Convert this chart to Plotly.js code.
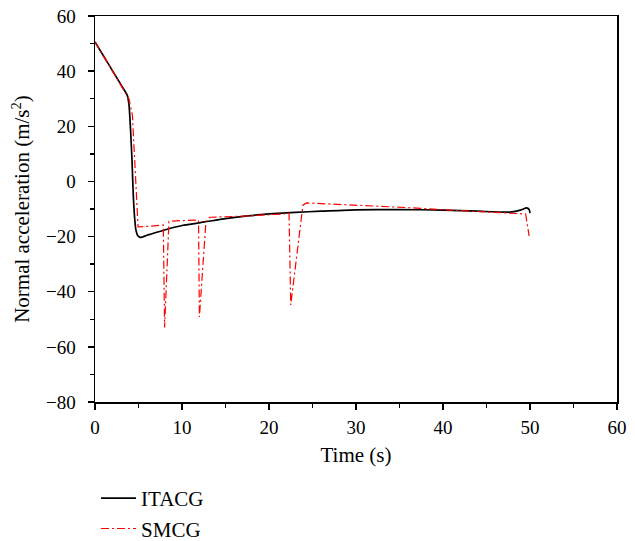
<!DOCTYPE html>
<html>
<head>
<meta charset="utf-8">
<script src="https://cdn.plot.ly/plotly-3.0.1.min.js"></script>
<style>html,body{margin:0;padding:0;background:#fff;}#chart{width:635px;height:541px;}</style>
</head>
<body>
<div id="chart"></div>
<script>
// ITACG (black solid)
const itacgTime = [0, 1, 2, 3, 3.7, 3.9, 4.1, 4.25, 4.4, 4.55, 4.7, 4.9, 5.2, 6, 7, 8, 10, 12.6, 15, 17.5, 20, 23, 26, 30, 35, 40, 44, 47.7, 49, 49.6, 49.9, 50];
const itacgAcc  = [50.6, 45.4, 40.2, 35, 31.3, 28, 18, 8, -5, -13, -17.6, -19.6, -20.3, -19.5, -18.5, -17.6, -16, -14.7, -13.5, -12.5, -11.8, -11.2, -10.8, -10.3, -10.2, -10.4, -10.8, -11.1, -10.3, -9.6, -10.2, -11.5];

// SMCG (red dash-dot)
const smcgTime = [0, 3.45, 3.9, 4.3, 4.5, 4.7, 4.95, 6, 7.85, 8.0, 8.5, 10, 11.9, 12.0, 12.75, 13.2, 17, 21.5, 22.3, 22.5, 23.9, 24.3, 30, 36, 40.8, 45, 48.5, 49.5, 49.9];
const smcgAcc  = [50.6, 32.4, 30, 24, 10, -5, -16.5, -16.3, -15.8, -53, -14.5, -14.2, -14, -49.2, -14.5, -13, -12.6, -11.8, -11.5, -44.8, -8.6, -7.8, -8.5, -9.5, -10.4, -11, -11.5, -11.8, -19.8];

const seriesNames = ["ITACG", "SMCG"];
const xTitle = "Time (s)";
const yTitle = "Normal acceleration (m/s<sup>2</sup>)";

const font = "Liberation Serif, Times New Roman, serif";

const traces = [
  {x: itacgTime, y: itacgAcc, name: seriesNames[0], mode: "lines",
   line: {color: "#000000", width: 1.7, shape: "spline", smoothing: 0.6}},
  {x: smcgTime, y: smcgAcc, name: seriesNames[1], mode: "lines",
   line: {color: "#ff0000", width: 1.2, dash: "8px,3px,2px,3px"}}
];

const axisCommon = {
  showline: true, mirror: true, linecolor: "#000", linewidth: 1.5,
  ticks: "outside", ticklen: 6, tickwidth: 1.3, tickcolor: "#000",
  showgrid: false, zeroline: false,
  tickfont: {family: font, size: 19, color: "#000"}
};

const layout = {
  width: 635, height: 541,
  margin: {l: 95, r: 18, t: 16, b: 139, autoexpand: false},
  paper_bgcolor: "#fff", plot_bgcolor: "#fff",
  font: {family: font, size: 19, color: "#000"},
  showlegend: true,
  legend: {orientation: "v", x: 0.002, xanchor: "left", y: -0.197, yanchor: "top",
           itemwidth: 35, tracegroupgap: 0,
           font: {family: font, size: 21, color: "#000"}, bgcolor: "rgba(0,0,0,0)"},
  xaxis: Object.assign({}, axisCommon, {
    range: [0, 60], dtick: 10, tick0: 0, ticklabelstandoff: 2,
    minor: {ticks: "outside", ticklen: 4, dtick: 5, tickcolor: "#000", tickwidth: 1.3},
    title: {text: xTitle, font: {family: font, size: 21, color: "#000"}, standoff: 10}
  }),
  yaxis: Object.assign({}, axisCommon, {
    range: [-80, 60], dtick: 20, tick0: 0, ticklabelstandoff: 8,
    minor: {ticks: "outside", ticklen: 4, dtick: 10, tickcolor: "#000", tickwidth: 1.3},
    title: {text: yTitle, font: {family: font, size: 21, color: "#000"}, standoff: 10}
  })
};

Plotly.newPlot("chart", traces, layout, {staticPlot: true, displayModeBar: false});
</script>
</body>
</html>
